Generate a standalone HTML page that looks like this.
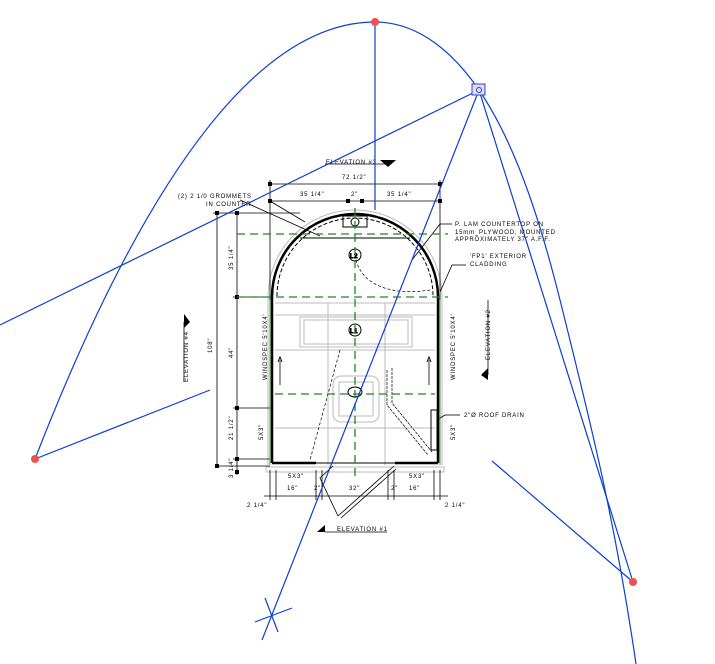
<!DOCTYPE html>
<html><head><meta charset="utf-8"><style>
html,body{margin:0;padding:0;background:#fff;}
svg{display:block;}
text{font-family:"Liberation Sans",sans-serif;font-size:6px;fill:#000;letter-spacing:0.8px;}
</style></head><body>
<svg width="715" height="664" viewBox="0 0 715 664" xmlns="http://www.w3.org/2000/svg">
<g stroke="#bbb" stroke-width="1" fill="none">
<path d="M268,465 V297 A87,87 0 0 1 442,297 V465"/>
<line x1="275" y1="303" x2="435" y2="303"/>
<line x1="275" y1="315" x2="435" y2="315"/>
<line x1="275" y1="350" x2="435" y2="350"/>
<line x1="275" y1="428" x2="435" y2="428"/>
<line x1="328" y1="303" x2="328" y2="465"/>
<line x1="385" y1="303" x2="385" y2="465"/>
<rect x="300" y="317" width="112" height="30"/>
<rect x="304" y="320" width="104" height="24"/>
<rect x="333" y="376" width="46" height="46" rx="8"/>
<rect x="339" y="382" width="34" height="34"/>
<rect x="266" y="467" width="178" height="5"/>
</g>
<g stroke="#000" fill="none">
<path d="M272,463 V297 A83,83 0 0 1 438,297 V463" stroke-width="2.5"/>
<path d="M277,296 A78,78 0 0 1 433,296" stroke-width="1" stroke-dasharray="4,2"/>
<line x1="272" y1="463" x2="316" y2="463" stroke-width="2.5"/>
<line x1="395" y1="463" x2="438" y2="463" stroke-width="2.5"/>
<line x1="316" y1="463" x2="395" y2="463" stroke-width="1"/>
<line x1="300" y1="238" x2="410" y2="238" stroke-width="1"/>
<rect x="343" y="216" width="24" height="11"/>
<circle cx="355" cy="222" r="4"/>
<circle cx="355" cy="255" r="6"/><text x="350" y="258" style="font-size:6px">L2</text>
<circle cx="355" cy="330" r="6"/><text x="350" y="333" style="font-size:6px">L1</text>
<ellipse cx="355" cy="392" rx="7" ry="5"/>
<path d="M355,255 C360,290 400,295 430,290" stroke-width="0.7" stroke-dasharray="3,2"/>
<path d="M340,350 L310,460" stroke-width="0.7" stroke-dasharray="3,2"/>
<path d="M387,370 V405 L428,455" stroke-width="0.7" stroke-dasharray="3,1"/>
<path d="M392,368 V403 L432,452" stroke-width="0.7" stroke-dasharray="3,1"/>
<rect x="431" y="410" width="6" height="40"/>
<line x1="280" y1="385" x2="280" y2="360" stroke-width="0.8"/><path d="M278,362 L280,357 L282,362"/>
<line x1="429" y1="385" x2="429" y2="360" stroke-width="0.8"/><path d="M427,362 L429,357 L431,362"/>
<path d="M333,466 L320,478 L338,516" stroke-width="0.8"/>
<path d="M338,516 L394,466 M341,518 L396,469" stroke-width="0.8"/>
<g stroke-width="0.8">
<line x1="270" y1="184" x2="440" y2="184"/>
<line x1="270" y1="201" x2="440" y2="201"/>
<line x1="270" y1="180" x2="270" y2="300"/>
<line x1="440" y1="180" x2="440" y2="300"/>
<line x1="217" y1="213" x2="217" y2="466"/>
<line x1="237" y1="213" x2="237" y2="475"/>
<line x1="213" y1="213" x2="300" y2="213"/>
<line x1="217" y1="466" x2="270" y2="466"/>
<line x1="233" y1="297" x2="270" y2="297"/>
<line x1="233" y1="408" x2="270" y2="408"/>
<line x1="233" y1="459" x2="270" y2="459"/>
<line x1="264" y1="496" x2="448" y2="496"/>
<line x1="270" y1="470" x2="270" y2="500"/>
<line x1="276" y1="470" x2="276" y2="500"/>
<line x1="316" y1="470" x2="316" y2="500"/>
<line x1="322" y1="470" x2="322" y2="500"/>
<line x1="388" y1="470" x2="388" y2="500"/>
<line x1="394" y1="470" x2="394" y2="500"/>
<line x1="434" y1="470" x2="434" y2="500"/>
<line x1="440" y1="470" x2="440" y2="500"/>
<line x1="270" y1="201" x2="305" y2="222"/>
<line x1="240" y1="200" x2="320" y2="236"/>
<line x1="412" y1="260" x2="440" y2="224"/><line x1="440" y1="224" x2="452" y2="224"/>
<line x1="440" y1="292" x2="452" y2="265"/><line x1="452" y1="265" x2="466" y2="265"/>
<line x1="437" y1="420" x2="445" y2="415"/><line x1="445" y1="415" x2="460" y2="415"/>
<line x1="325" y1="532" x2="387" y2="532"/>
<line x1="325" y1="164" x2="385" y2="164"/>
<line x1="184" y1="322" x2="184" y2="382"/>
<line x1="488" y1="300" x2="488" y2="375"/>
</g>
<g fill="#000" stroke="none">
<rect x="268" y="182" width="4" height="4"/><rect x="438" y="182" width="4" height="4"/>
<rect x="268" y="199" width="4" height="4"/><rect x="346" y="199" width="4" height="4"/><rect x="360" y="199" width="4" height="4"/><rect x="438" y="199" width="4" height="4"/>
<rect x="215" y="211" width="4" height="4"/><rect x="215" y="464" width="4" height="4"/>
<rect x="235" y="211" width="4" height="4"/><rect x="235" y="295" width="4" height="4"/><rect x="235" y="406" width="4" height="4"/><rect x="235" y="457" width="4" height="4"/><rect x="235" y="470" width="4" height="4"/>
<path d="M380,160 L396,160 L388,167Z"/>
<path d="M317,532 L325,532 L325,525Z"/>
<path d="M184,314 L190,322 L184,328Z"/>
<path d="M488,368 L488,380 L481,375Z"/>
</g>
</g>
<g stroke="#1a8a1a" stroke-width="1.3" stroke-dasharray="8,5" fill="none">
<line x1="237" y1="234" x2="448" y2="234"/>
<line x1="237" y1="297" x2="448" y2="297"/>
<line x1="275" y1="394" x2="435" y2="394"/>
<line x1="355" y1="208" x2="355" y2="480"/>
<line x1="270" y1="300" x2="270" y2="465" stroke-dasharray="none" stroke-width="0.8"/>
<line x1="440" y1="300" x2="440" y2="465" stroke-dasharray="none" stroke-width="0.8"/>
</g>
<text x="326" y="164">ELEVATION #3</text>
<text x="342" y="179">72 1/2"</text>
<text x="300" y="196">35 1/4"</text>
<text x="351" y="196">2"</text>
<text x="387" y="196">35 1/4"</text>
<text x="178" y="198">(2) 2 1/0 GROMMETS</text>
<text x="206" y="206">IN COUNTER</text>
<text x="455" y="226">P. LAM COUNTERTOP ON</text>
<text x="455" y="234">15mm_PLYWOOD, MOUNTED</text>
<text x="455" y="241">APPROXIMATELY 37" A.F.F.</text>
<text x="470" y="258">'FP1' EXTERIOR</text>
<text x="470" y="266">CLADDING</text>
<text x="464" y="417">2"Ø ROOF DRAIN</text>
<text x="337" y="531">ELEVATION #1</text>
<text x="288" y="478">5X3"</text><text x="409" y="478">5X3"</text>
<text x="287" y="490">16"</text><text x="349" y="490">32"</text><text x="409" y="490">16"</text>
<text x="314" y="490">2"</text><text x="391" y="490">2"</text>
<text x="247" y="507">2 1/4"</text><text x="445" y="507">2 1/4"</text>
<g transform="rotate(-90)">
<text x="-270" y="233">35 1/4"</text>
<text x="-358" y="233">44"</text>
<text x="-440" y="233">21 1/2"</text>
<text x="-478" y="233">3 1/4"</text>
<text x="-353" y="212">108"</text>
<text x="-382" y="188">ELEVATION #4</text>
<text x="-380" y="267">WINDSPEC 5'10X4'</text>
<text x="-380" y="455">WINDSPEC 5'10X4'</text>
<text x="-440" y="263">5X3"</text>
<text x="-440" y="455">5X3"</text>
<text x="-360" y="490">ELEVATION #2</text>
</g>
</svg>
<svg width="715" height="664" viewBox="0 0 715 664" style="position:absolute;left:0;top:0" xmlns="http://www.w3.org/2000/svg">
<g stroke="#0b3fd0" stroke-width="1.2" fill="none">
<path d="M35,459 Q205,22 375,22 C420,22 455,55 479,90 C520,150 545,240 560,300 C590,420 615,520 636,664"/>
<line x1="375" y1="22" x2="375" y2="210"/>
<line x1="479" y1="90" x2="0" y2="325"/>
<line x1="479" y1="90" x2="262" y2="640"/>
<line x1="479" y1="90" x2="633" y2="582"/>
<line x1="35" y1="459" x2="210" y2="390"/>
<line x1="492" y1="461" x2="633" y2="582"/>
<line x1="255" y1="622" x2="292" y2="608"/>
<line x1="265" y1="598" x2="278" y2="632"/>
</g>
<g fill="#f05050">
<circle cx="375" cy="22" r="4"/><circle cx="35" cy="459" r="4"/><circle cx="633" cy="582" r="4"/>
</g>
<rect x="472" y="84" width="13" height="11" fill="#dde" stroke="#3344cc"/>
<circle cx="479" cy="90" r="2.5" fill="none" stroke="#3344cc"/>
</svg>
</body></html>
